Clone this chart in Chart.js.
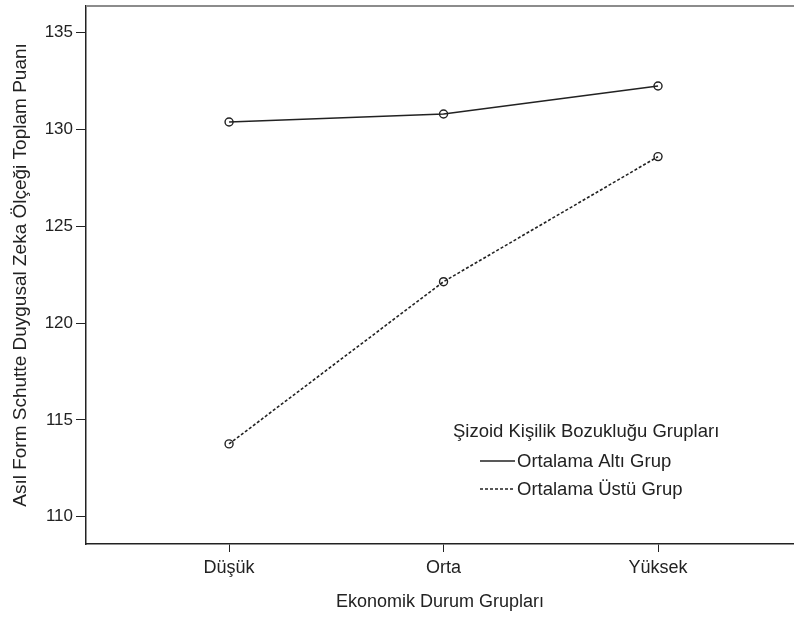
<!DOCTYPE html>
<html>
<head>
<meta charset="utf-8">
<script src="https://cdn.jsdelivr.net/npm/chart.js@4/dist/chart.umd.min.js"></script>
<style>
  body { margin: 0; background: #fff; overflow: hidden; }
</style>
</head>
<body>
<canvas id="chart" width="794" height="617"></canvas>
<script>
const categories = ["Düşük", "Orta", "Yüksek"];
const altiGrup = [130.39, 130.8, 132.25];
const ustuGrup = [113.76, 122.14, 128.6];
const yTicks = [110, 115, 120, 125, 130, 135];
const legendTitle = "Şizoid Kişilik Bozukluğu Grupları";
const seriesNames = ["Ortalama Altı Grup", "Ortalama Üstü Grup"];

const FONT = "'Liberation Sans', Arial, sans-serif";

function toPoints(vals) {
  return vals.map((v, i) => ({ x: i, y: v }));
}

// top grey frame line + legend drawn inside the plot
const frameAndLegend = {
  id: "frameAndLegend",
  afterDraw(chart) {
    const c = chart.ctx;
    const a = chart.chartArea;
    c.save();
    c.strokeStyle = "#8c8c8c";
    c.lineWidth = 2;
    c.beginPath();
    c.moveTo(a.left, a.top);
    c.lineTo(a.right, a.top);
    c.stroke();

    c.fillStyle = "#222";
    c.font = "18.5px " + FONT;
    c.textBaseline = "middle";
    c.textAlign = "left";
    c.fillText(legendTitle, 453, 432);

    const rows = [462, 490];
    const dashes = [[], [3, 2]];
    for (let i = 0; i < 2; i++) {
      c.strokeStyle = "#222";
      c.lineWidth = 1.5;
      c.setLineDash(dashes[i]);
      c.beginPath();
      c.moveTo(480, rows[i] - 1);
      c.lineTo(515, rows[i] - 1);
      c.stroke();
      c.setLineDash([]);
      c.fillText(seriesNames[i], 517, rows[i]);
    }
    c.restore();
  },
};

new Chart(document.getElementById("chart"), {
  type: "line",
  data: {
    datasets: [
      {
        label: seriesNames[0],
        data: toPoints(altiGrup),
        borderColor: "#222",
        borderWidth: 1.6,
        pointRadius: 4,
        pointBorderWidth: 1.4,
        pointBackgroundColor: "rgba(0,0,0,0)",
        pointBorderColor: "#222",
        tension: 0,
      },
      {
        label: seriesNames[1],
        data: toPoints(ustuGrup),
        borderColor: "#222",
        borderWidth: 1.6,
        borderDash: [3, 2],
        pointRadius: 4,
        pointBorderWidth: 1.4,
        pointBackgroundColor: "rgba(0,0,0,0)",
        pointBorderColor: "#222",
        tension: 0,
      },
    ],
  },
  options: {
    responsive: false,
    animation: false,
    layout: { autoPadding: false, padding: { top: 6, right: 0, left: 0, bottom: 0 } },
    plugins: {
      legend: { display: false },
      tooltip: { enabled: false },
    },
    scales: {
      x: {
        type: "linear",
        min: -0.667,
        max: 2.634,
        afterBuildTicks: (axis) => {
          axis.ticks = categories.map((_, i) => ({ value: i }));
        },
        afterFit: (axis) => {
          axis.height = 73;
          axis.paddingLeft = 0;
          axis.paddingRight = 0;
        },
        ticks: {
          callback: (v) => categories[v],
          color: "#222",
          font: { family: FONT, size: 18 },
          padding: 5,
          maxRotation: 0,
        },
        grid: {
          drawOnChartArea: false,
          drawTicks: true,
          tickLength: 8,
          color: "#222",
        },
        border: { display: true, color: "#222", width: 1.5 },
        title: {
          display: true,
          text: "Ekonomik Durum Grupları",
          color: "#222",
          font: { family: FONT, size: 18 },
          padding: { top: 4 },
        },
      },
      y: {
        min: 108.59,
        max: 136.38,
        afterBuildTicks: (axis) => {
          axis.ticks = yTicks.map((v) => ({ value: v }));
        },
        afterFit: (axis) => {
          axis.width = 86;
          axis.paddingTop = 0;
          axis.paddingBottom = 0;
        },
        ticks: {
          color: "#222",
          font: { family: FONT, size: 17 },
          padding: 3,
        },
        grid: {
          drawOnChartArea: false,
          drawTicks: true,
          tickLength: 10,
          color: "#222",
        },
        border: { display: true, color: "#222", width: 1.5 },
        title: {
          display: true,
          text: "Asıl Form Schutte Duygusal Zeka Ölçeği Toplam Puanı",
          color: "#222",
          font: { family: FONT, size: 19 },
          padding: { top: 9, bottom: 2 },
        },
      },
    },
  },
  plugins: [frameAndLegend],
});
</script>
</body>
</html>
